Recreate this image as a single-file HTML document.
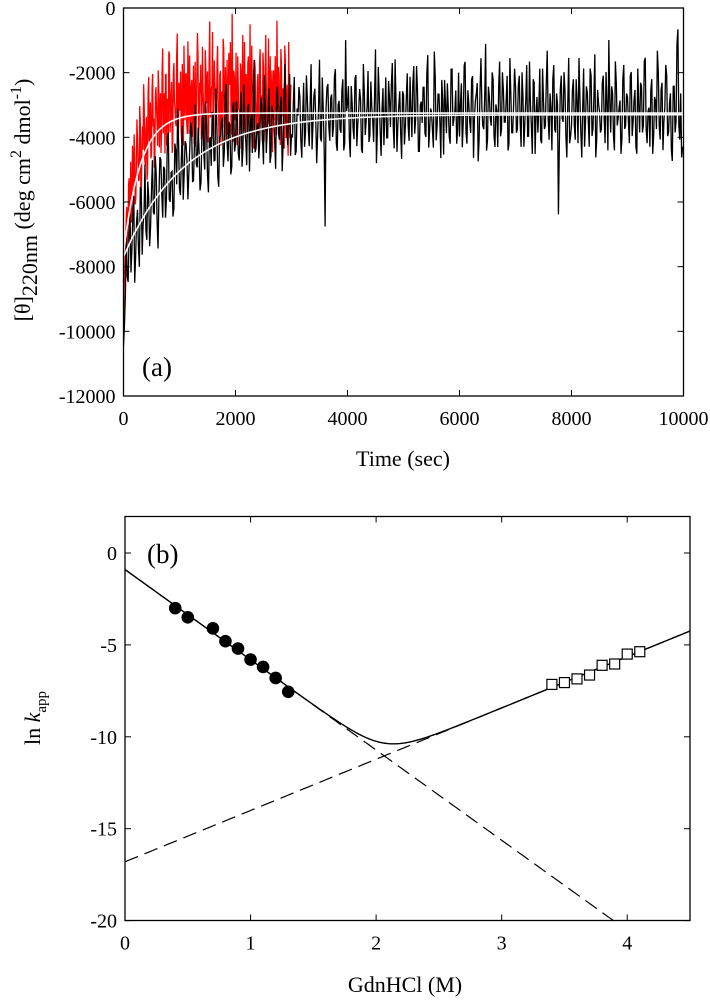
<!DOCTYPE html>
<html><head><meta charset="utf-8"><style>
html,body{margin:0;padding:0;background:#fff;}
svg{display:block;font-family:"Liberation Serif",serif;}
</style></head><body>
<svg id="fig" width="710" height="1000" viewBox="0 0 710 1000">
<defs><clipPath id="clipA"><rect x="123.5" y="8" width="560" height="388"/></clipPath></defs>
<g id="pa"></g>
<g id="pb"></g>
</svg>
<script>
// ---------- Panel (a) data ----------
const aXTicks = [0,2000,4000,6000,8000,10000];
const aYTicks = [0,-2000,-4000,-6000,-8000,-10000,-12000];
const blackFit = [-7700,-3300,1080];   // start, plateau, tau (s)
const redFit = [-7600,-3250,300];
const blackDuration = 10000;
const redDuration = 3000;
const blackResid = [
-25,-12,-8,3,-9,6,-14,2,-6,10,-10,1,-5,8,-11,4,-3,12,-7,0,9,-8,5,-4,14,-6,2,-9,7,18,
-5,3,-9,7,1,-3,11,-6,4,-2,8,-10,5,0,14,-7,3,-5,9,-4,6,-12,2,7,-3,16,-6,4,-8,10,
-2,5,-7,12,-4,1,-9,8,3,-6,20,-5,2,-3,7,-10,6,-1,11,-8,4,-4,9,-2,5,-13,8,1,-6,14,
-3,6,-9,4,10,-5,2,-7,13,-2,5,-8,7,0,-4,17,-6,3,-30,9,-2,6,-5,12,-7,4,-3,8,-9,22,
4,-6,9,-3,11,-8,2,5,-10,7,-1,13,-5,3,-7,19,-4,6,-11,8,0,-6,10,-3,15,-9,4,-2,7,-12,
6,-3,12,-7,2,9,-5,14,-10,3,-2,8,-6,17,-4,1,-9,11,-3,6,-12,4,10,-5,2,-8,13,-1,7,-4,
-6,9,-2,15,-8,3,-5,11,-1,6,-13,7,2,-4,20,-7,5,-3,10,-9,1,8,-6,12,-2,4,-10,16,-5,3,
8,-4,11,-9,5,-2,14,-6,3,-11,9,0,-5,13,-8,4,-3,18,-7,2,10,-4,6,-28,7,-1,12,-6,3,-8,
-3,10,-7,4,16,-5,2,-9,8,-2,13,-6,5,-12,7,1,-4,11,-8,3,21,-5,6,-10,9,-1,4,-7,14,-3,
5,-8,12,-2,7,-11,3,9,-5,15,-4,1,-9,10,-6,4,18,-3,7,-10,2,11,-5,6,-13,8,-2,24,-7,-12
];
const blackResid2 = [
-20,4,-10,8,-3,11,-7,5,-12,9,-2,14,-8,3,-6,12,-4,7,-15,10,-1,6,-9,13,-5,2,-11,9,-3,8,
-7,12,-2,6,-10,4,9,-6,15,-3,1,-8,11,-5,7,-12,3,10,-4,16,-9,2,6,-7,13,-1,5,-10,8,-4,
10,-5,3,-9,14,-2,7,-11,5,12,-6,1,-8,9,-3,15,-7,4,-10,6,2,-12,11,-4,8,-6,17,-2,5,-9,
-4,13,-8,2,7,-10,11,-3,6,-7,16,-1,9,-12,4,-5,12,-8,3,10,-6,7,-2,14,-9,5,-4,11,-7,2,
9,-11,4,-6,12,-2,8,-9,15,-5,3,-7,10,-1,6,-13,14,-4,2,-8,11,-6,5,9,-3,16,-10,3,-5,7,
-8,5,-3,11,-6,14,-1,7,-10,4,8,-5,12,-9,2,-4,18,-7,6,-2,10,-11,3,9,-6,13,-3,1,-8,12,
3,-9,14,-5,7,-2,10,-12,4,9,-7,16,-3,5,-10,8,-1,12,-6,3,-9,15,-4,7,-2,11,-8,6,-5,13,
-5,8,-2,12,-9,4,-6,15,-3,10,-11,5,2,-7,13,-4,9,-1,6,-10,14,-5,3,-8,11,-2,7,-12,16,-6,
7,-3,10,-8,5,-12,13,-2,6,-9,11,-4,17,-7,3,-5,9,-1,12,-10,4,8,-6,15,-3,2,-11,10,-4,6,
-2,11,-6,4,-9,13,-5,8,-3,16,-8,2,7,-11,5,-4,12,-7,9,-2,14,-6,3,-10,8,-5,20,-3,6,-9
];
const redResid = [
-18,-8,-2,6,-4,10,2,-6,14,0,8,-5,16,3,-3,12,-7,9,20,-2,6,-9,15,1,11,-4,18,5,-6,13,
2,17,-5,10,-1,22,4,-8,14,7,-3,19,0,11,-6,16,3,-2,24,-4,9,13,-7,6,20,-1,12,-5,8,17,
-3,10,4,-8,15,1,23,-6,9,14,-2,7,-10,18,3,12,-5,26,0,8,-7,15,5,-3,19,-1,11,-9,6,21,
-4,13,2,-6,17,8,-2,28,-8,10,4,-5,16,1,-10,12,6,-3,20,-7,9,14,-4,25,-1,7,-9,15,3,-6,
11,-2,18,5,-8,13,0,22,-5,9,-3,16,4,-11,12,7,-6,26,-2,10,-9,14,1,-4,19,-7,8,-12,6,2
];
const redResid2 = [
-12,-4,5,-7,9,-2,12,-5,8,15,-6,4,10,-3,17,-8,6,2,13,-4,9,-7,19,0,-5,14,3,-9,11,7,
-4,12,6,-7,16,-2,9,14,-6,3,20,-3,8,-9,13,5,-1,18,-6,10,2,-4,15,-8,7,12,-2,21,-5,4,
8,-6,14,1,-9,11,17,-3,6,-7,19,2,-4,13,9,-8,16,-1,7,23,-5,10,-3,14,4,-10,12,6,-2,18,
3,-8,15,-4,9,20,-6,5,12,-2,17,-9,7,1,14,-5,22,-3,8,11,-7,16,2,-4,19,6,-10,13,-1,9,
-6,14,4,-3,17,-8,10,7,-5,21,1,-9,12,5,-2,16,-6,9,13,-4,18,-1,7,-10,15,3,-5,20,-7,8
];

// ---------- Panel (b) data ----------
const bXTicks = [0,1,2,3,4];
const bYTicks = [0,-5,-10,-15,-20];
const foldX = [0.4,0.5,0.7,0.8,0.9,1.0,1.1,1.2,1.3];
const foldY = [-3.0,-3.5,-4.1,-4.8,-5.2,-5.8,-6.2,-6.8,-7.55];
const unfoldX = [3.4,3.5,3.6,3.7,3.8,3.9,4.0,4.1];
const unfoldY = [-7.15,-7.05,-6.85,-6.64,-6.11,-6.04,-5.5,-5.37];
const foldLine = [-0.9,-4.91];   // intercept, slope
const unfoldLine = [-16.8,2.79];

const NS="http://www.w3.org/2000/svg";
function mk(tag,attrs,parent){const e=document.createElementNS(NS,tag);for(const k in attrs)e.setAttribute(k,attrs[k]);parent.appendChild(e);return e;}

// ---- Panel A ----
const pa=document.getElementById('pa');
const aL=123.5,aR=683.5,aT=8,aB=396;
const ax=v=>aL+(v-0)/10000*(aR-aL);
const ay=v=>aT+(0-v)/12000*(aB-aT);
const clipG=mk('g',{'clip-path':'url(#clipA)'},pa);


function trace(fit,r1,r2,dur,color,name){
  let d='';const n=r1.length;let k=0;
  for(let i=0;i<n;i++){
    for(let j=0;j<2;j++){
      const t=(i+j*0.5)/n*dur;
      const f=fit[1]+(fit[0]-fit[1])*Math.exp(-t/fit[2]);
      const v=f+(j?r2[i]:r1[i])*110;
      d+=(k++?'L':'M')+ax(t).toFixed(2)+','+ay(v).toFixed(2);}
  }
  const p=mk('path',{d:d,fill:'none',stroke:color,'stroke-width':1.3},clipG);
  
  
}
function fitCurve(fit,name){
  let d='';
  for(let i=0;i<=200;i++){const t=i/200*10000;
    const f=fit[1]+(fit[0]-fit[1])*Math.exp(-t/fit[2]);
    d+=(i?'L':'M')+ax(t).toFixed(2)+','+ay(f).toFixed(2);}
  const p=mk('path',{d:d,fill:'none',stroke:'#fff','stroke-width':1.6},clipG);
  
  
}
trace(redFit,redResid,redResid2,redDuration,'#f00','red-trace');
trace(blackFit,blackResid,blackResid2,blackDuration,'#000','black-trace');
fitCurve(blackFit,'black-fit-curve');
fitCurve(redFit,'red-fit-curve');
const fa=mk('rect',{x:aL,y:aT,width:aR-aL,height:aB-aT,fill:'none',stroke:'#000','stroke-width':1.3},pa);


aXTicks.forEach(v=>{const x=ax(v);
  mk('line',{x1:x,y1:aB,x2:x,y2:aB-6,stroke:'#000'},pa);
  mk('line',{x1:x,y1:aT,x2:x,y2:aT+6,stroke:'#000'},pa);
  const t=mk('text',{x:x,y:aB+29,'font-size':20,'text-anchor':'middle'},pa);t.textContent=v;
  
  });
aYTicks.forEach(v=>{const y=ay(v);
  mk('line',{x1:aL,y1:y,x2:aL+6,y2:y,stroke:'#000'},pa);
  mk('line',{x1:aR,y1:y,x2:aR-6,y2:y,stroke:'#000'},pa);
  const t=mk('text',{x:aL-8,y:y+7,'font-size':20,'text-anchor':'end'},pa);t.textContent=v;
  
  });
</script>
<script>
(function(){
const pa=document.getElementById('pa');
pa.insertAdjacentHTML('beforeend',
'<text x="142" y="376" font-size="27">(a)</text>'+
'<text x="403" y="466" font-size="22" text-anchor="middle">Time (sec)</text>'+
'<text transform="translate(30,200) rotate(-90)" font-size="22" text-anchor="middle">[θ]<tspan dy="7">220nm</tspan><tspan dy="-7"> (deg cm</tspan><tspan dy="-9" font-size="16">2</tspan><tspan dy="9"> dmol</tspan><tspan dy="-9" font-size="16">-1</tspan><tspan dy="9">)</tspan></text>');
})();
// ---- Panel B ----
const pb=document.getElementById('pb');
const bL=125,bR=690,bT=516.5,bB=920.5;
const bx=v=>bL+v/4.5*(bR-bL);
const by=v=>553+(0-v)*18.38;
function lineD(f){let d='';for(let i=0;i<=300;i++){const x=i/300*4.5;const y=f(x);
  if(y<-20.05)break; d+=(i?'L':'M')+bx(x).toFixed(2)+','+by(y).toFixed(2);}return d;}
const dF=mk('path',{d:lineD(x=>foldLine[0]+foldLine[1]*x),fill:'none',stroke:'#000','stroke-width':1.2,'stroke-dasharray':'14,7'},pb);


const dU=mk('path',{d:lineD(x=>unfoldLine[0]+unfoldLine[1]*x),fill:'none',stroke:'#000','stroke-width':1.2,'stroke-dasharray':'14,7'},pb);


const sC=mk('path',{d:lineD(x=>Math.log(Math.exp(foldLine[0]+foldLine[1]*x)+Math.exp(unfoldLine[0]+unfoldLine[1]*x))),fill:'none',stroke:'#000','stroke-width':1.4},pb);


foldX.forEach((v,i)=>{const c=mk('circle',{cx:bx(v),cy:by(foldY[i]),r:6.3,fill:'#000'},pb);
  
  });
unfoldX.forEach((v,i)=>{const r=mk('rect',{x:bx(v)-5,y:by(unfoldY[i])-5,width:10,height:10,fill:'#fff',stroke:'#000','stroke-width':1.2},pb);
  
  });
const fb=mk('rect',{x:bL,y:bT,width:bR-bL,height:bB-bT,fill:'none',stroke:'#000','stroke-width':1.3},pb);


bXTicks.forEach(v=>{const x=bx(v);
  mk('line',{x1:x,y1:bB,x2:x,y2:bB-6,stroke:'#000'},pb);
  mk('line',{x1:x,y1:bT,x2:x,y2:bT+6,stroke:'#000'},pb);
  const t=mk('text',{x:x,y:bB+29,'font-size':20,'text-anchor':'middle'},pb);t.textContent=v;
  
  });
bYTicks.forEach(v=>{const y=by(v);
  mk('line',{x1:bL,y1:y,x2:bL+6,y2:y,stroke:'#000'},pb);
  mk('line',{x1:bR,y1:y,x2:bR-6,y2:y,stroke:'#000'},pb);
  const t=mk('text',{x:bL-8,y:y+7,'font-size':20,'text-anchor':'end'},pb);t.textContent=v;
  
  });
pb.insertAdjacentHTML('beforeend',
'<text x="147" y="563" font-size="27">(b)</text>'+
'<text x="405" y="992" font-size="22" text-anchor="middle">GdnHCl (M)</text>'+
'<text transform="translate(40,718) rotate(-90)" font-size="22" text-anchor="middle">ln <tspan font-style="italic">k</tspan><tspan dy="6" font-size="15">app</tspan></text>');
</script>
</body></html>
